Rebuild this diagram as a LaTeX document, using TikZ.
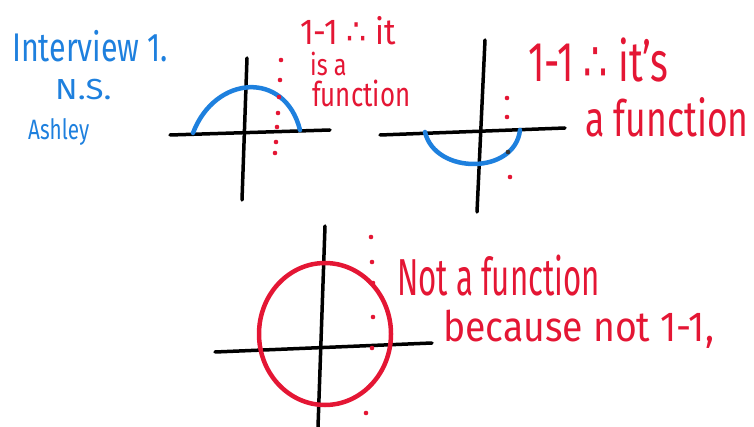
\documentclass[tikz,border=0pt]{standalone}
\usepackage{fontspec}
\setmainfont{Fira Sans}
\newfontfamily\symfont{DejaVu Sans}
\definecolor{penblue}{RGB}{30,128,222}
\definecolor{penred}{RGB}{228,22,52}
\tikzset{
  axis/.style={line width=3.5pt, line cap=round, black},
  bluecurve/.style={line width=4.5pt, line cap=round, penblue},
  redcurve/.style={line width=4.5pt, penred},
  note/.style={anchor=base west, inner sep=0pt, text=penred},
  bluenote/.style={anchor=base west, inner sep=0pt, text=penblue}
}
\newcommand{\handsize}[1]{\fontsize{#1}{#1}\selectfont}
\newcommand{\so}{{\symfont ∴}}

\begin{document}
\begin{tikzpicture}[x=1pt, y=-1pt]

    % Frame
    \useasboundingbox (0,0) rectangle (754,427);

    % 1. Header, top left
    \node[bluenote] (title) at (12,62) {\handsize{40}\scalebox{0.76}[1]{Interview 1.}};
    \node[bluenote] (initials) at (55,100) {\handsize{29}\scalebox{1.14}[1]{N.S.}};
    \node[bluenote] (who) at (28,140) {\handsize{28}\scalebox{0.74}[1]{Ashley}};

    % 2. Upper half circle
    \draw[axis] (170,135) -- (330,130);
    \draw[axis] (247,58) -- (242,200);
    \draw[bluecurve] (193,133) .. controls (215,75) and (285,70) .. (300,130);
    \foreach \x/\y in {281/60, 280/80, 279/97, 278/113, 277/127, 276/142, 275/153}
        \fill[penred] (\x,\y) circle (2.3pt);
    \node[note] (topA) at (300,45) {\handsize{36}\scalebox{0.88}[1]{1-1 \so{} it}};
    \node[note] (topB) at (310,76) {\handsize{30}\scalebox{0.78}[1]{is a}};
    \node[note] (topC) at (312,107) {\handsize{34}\scalebox{0.76}[1]{function}};

    % 3. Lower half circle
    \draw[axis] (380,135) -- (565,128);
    \draw[axis] (485,40) -- (477,212);
    \draw[bluecurve] (425,132) .. controls (435,175) and (515,175) .. (520,130);
    \foreach \x/\y in {507/98, 507/117, 510/177}
        \fill[penred] (\x,\y) circle (2.3pt);
    \fill[black!80] (508,152) circle (2.3pt);
    \node[note] (rightA) at (528,82) {\handsize{56}\scalebox{0.68}[1]{1-1 \so{} it's}};
    \node[note] (rightB) at (585,137) {\handsize{50}\scalebox{0.71}[1]{a function}};

    % 4. Full circle
    \draw[axis] (215,352) -- (432,343);
    \draw[axis] (325,226) -- (318,427);
    \draw[redcurve] (325,334) ellipse [x radius=66, y radius=71];
    \foreach \x/\y in {371/237, 372/262, 373/283, 373/317, 372/348, 366/413}
        \fill[penred] (\x,\y) circle (2.3pt);
    \node[note] (lowA) at (397,295) {\handsize{52}\scalebox{0.6}[1]{Not a function}};
    \node[note] (lowB) at (443,341) {\handsize{42}\scalebox{0.89}[1]{because not 1-1,}};

\end{tikzpicture}
\end{document}
